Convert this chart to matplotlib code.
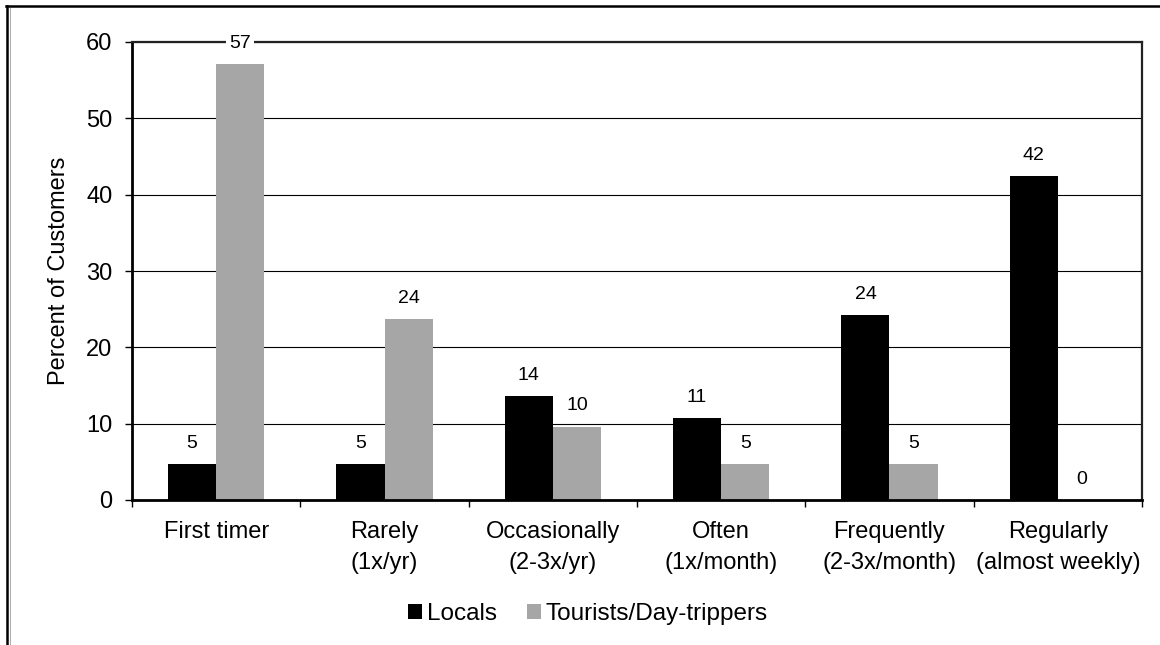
import matplotlib
matplotlib.use("Agg")
import matplotlib.pyplot as plt
import numpy as np
from matplotlib.lines import Line2D
from matplotlib.patches import Patch

plt.rcParams['font.family'] = ['Liberation Sans', 'DejaVu Sans']

categories = ["First timer", "Rarely\n(1x/yr)", "Occasionally\n(2-3x/yr)",
              "Often\n(1x/month)", "Frequently\n(2-3x/month)", "Regularly\n(almost weekly)"]
locals_vals = [4.7, 4.7, 13.6, 10.7, 24.2, 42.4]
tourists_vals = [57.1, 23.7, 9.6, 4.7, 4.7, 0.0]
series_names = ["Locals", "Tourists/Day-trippers"]
series_colors = ["#000000", "#a6a6a6"]
y_ticks = [0, 10, 20, 30, 40, 50, 60]

W, H = 1160, 645
fig = plt.figure(figsize=(W / 100, H / 100), dpi=100)
ax = fig.add_axes([132 / W, 1 - 500 / H, (1142 - 132) / W, (500 - 42) / H])

n = len(categories)
x = np.arange(n)
bw = 1 / 3.5
for vals, off, col in [(locals_vals, -bw / 2, series_colors[0]),
                       (tourists_vals, bw / 2, series_colors[1])]:
    ax.bar(x + off, vals, width=bw, color=col, zorder=2, linewidth=0)
    for xi, v in zip(x + off, vals):
        ax.annotate(f"{v:.0f}", (xi, v), xytext=(0, 15), textcoords="offset points",
                    ha="center", va="center", fontsize=14, zorder=5,
                    bbox=dict(boxstyle="square,pad=0.15", fc="white", ec="none"),
                    annotation_clip=False)

ax.set_xlim(-0.5, n - 0.5)
ax.set_ylim(0, 60)
ax.set_yticks(y_ticks)
ax.set_yticklabels([str(t) for t in y_ticks], fontsize=17)
ax.yaxis.grid(True, color="black", linewidth=0.8, zorder=0)
ax.set_axisbelow(True)

# category boundaries as major ticks, labels at minor (centers)
ax.set_xticks(np.arange(-0.5, n, 1.0))
ax.set_xticklabels([])
ax.set_xticks(x, minor=True)
ax.set_xticklabels(categories, minor=True, fontsize=17, linespacing=1.55)
ax.tick_params(axis="x", which="minor", length=0, pad=15)
ax.tick_params(axis="x", which="major", length=5, width=1, direction="out")
ax.tick_params(axis="y", length=5, width=1, direction="out", pad=9)

ax.set_ylabel("Percent of Customers", fontsize=17, labelpad=12)

for s in ["left", "bottom"]:
    ax.spines[s].set_linewidth(2.0)
    ax.spines[s].set_color("black")
for s in ["top", "right"]:
    ax.spines[s].set_linewidth(1.6)
    ax.spines[s].set_color("#222222")

handles = [Patch(facecolor=c, edgecolor="none") for c in series_colors]
fig.legend(handles, series_names, loc="center", bbox_to_anchor=(588 / W, 1 - 614 / H),
           ncol=2, frameon=False, fontsize=17.5, handlelength=0.6, handleheight=0.6,
           handletextpad=0.2, columnspacing=1.2)

# outer border (top and left)
fig.add_artist(Line2D([6 / W, 1.0], [1 - 6 / H, 1 - 6 / H], color="black", linewidth=1.8,
                      transform=fig.transFigure))
fig.add_artist(Line2D([7 / W, 7 / W], [1 - 6 / H, 0.0], color="black", linewidth=1.8,
                      transform=fig.transFigure))
fig.add_artist(Line2D([9.5 / W, 9.5 / W], [1 - 8 / H, 0.0], color="#aaaaaa", linewidth=0.7,
                      transform=fig.transFigure))

fig.savefig("out.png", dpi=100)
